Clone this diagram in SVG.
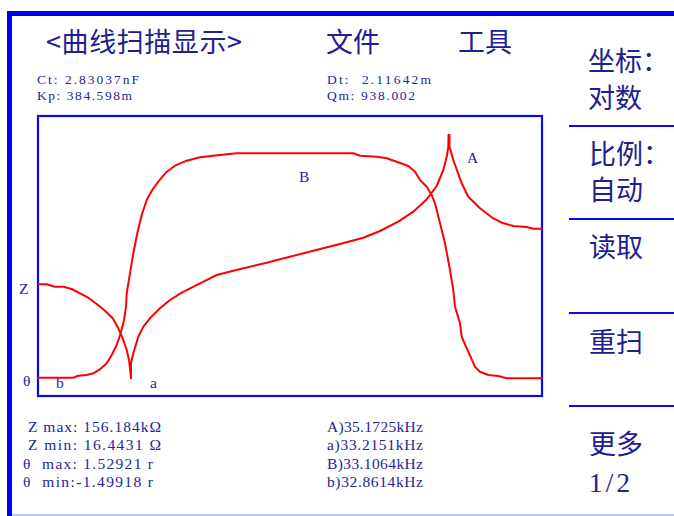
<svg xmlns="http://www.w3.org/2000/svg" width="674" height="516" viewBox="0 0 674 516">
<style>
.cjk{font-family:"Noto Sans CJK SC","Noto Sans",sans-serif;font-size:27px;fill:#202090}
.sm{font-family:"Liberation Serif",serif;font-size:15.5px;fill:#25259a}
.par{font-family:"Liberation Serif",serif;font-size:13.5px;fill:#25259a}
.num{font-family:"Liberation Serif",serif;font-size:27px;fill:#202090}
.curve{fill:none;stroke:#ff0000;stroke-width:2;stroke-linejoin:round}
.menu{stroke:#0a0af0;stroke-width:2}
</style>
<rect width="674" height="516" fill="#ffffff"/>
<g id="frame">
<rect x="7" y="11" width="667" height="5" fill="#0000f0"/>
<rect x="7" y="11" width="5" height="505" fill="#0000f0"/>
<line x1="12" y1="515" x2="674" y2="515" stroke="#b0b0ff" stroke-width="1.5"/>
</g>
<g id="header">
<text class="cjk" x="46" y="52" textLength="196" lengthAdjust="spacing">&lt;曲线扫描显示&gt;</text>
<text class="cjk" x="326" y="52">文件</text>
<text class="cjk" x="458" y="52">工具</text>
</g>
<g id="params">
<text class="par" x="37" y="84" textLength="102" lengthAdjust="spacing">Ct: 2.83037nF</text>
<text class="par" x="37" y="99.5" textLength="95" lengthAdjust="spacing">Kp: 384.598m</text>
<text class="par" x="327" y="84" textLength="104" lengthAdjust="spacing" xml:space="preserve">Dt:  2.11642m</text>
<text class="par" x="327" y="99.5" textLength="88" lengthAdjust="spacing">Qm: 938.002</text>
</g>
<g id="plot">
<rect x="38" y="116" width="504" height="280" fill="none" stroke="#0a0af0" stroke-width="2.2"/>
<text class="sm" x="19" y="294">Z</text>
<text class="sm" x="23" y="386">θ</text>
<text class="sm" x="56" y="388">b</text>
<text class="sm" x="150" y="388">a</text>
<text class="sm" x="299" y="182">B</text>
<text class="sm" x="467" y="163">A</text>
</g>
<g id="connectors">
<polyline class="curve" points="37.7,284.3 46.7,284.3 55,286.7 63.3,286.7 71.7,289 80,293.3 88.3,297.7 96.7,304 105,310.7 112.7,318.3 118.3,328.3 122.7,338.3 126.7,350 129,360 130,368.3 131,378.3 131,363.3 133.3,353.3 138.3,336.7 143.3,326.7 150,318.3 160,308.3 170,300 181.7,292.7 200,283.3 216.7,275 233.3,270.7 266.7,262.7 280,259.3 313.3,250.7 340,244 363.3,237.7 380,231 398.3,221.7 413.3,211.7 426.7,199.3 436.7,186 443.3,170 446.7,156.7 448.3,147 448.5,135 449.5,135 449.5,147 450.5,150 453.3,160 461.7,183.3 468.3,196.7 480,208.3 491.7,217.3 501.7,222.7 513.3,226 526.7,227 533.3,228.7 542.3,228.7"/>
<polyline class="curve" points="37.7,377.7 73.3,377.7 78.3,375.7 86.7,375 93.3,373.3 100,369.3 106.7,363.3 111.7,355 116.7,345 120.7,333.3 124,320 126,306.7 126.7,293.3 130,273.3 133.3,253.3 137.3,233.3 141.7,215 146.7,200 152.7,189.3 158.3,181.7 166.7,171.7 175,165.7 186.7,160.7 200,157.3 213.3,155.7 236.7,153.3 353.3,153.3 360,155.7 376.7,156.7 386.7,158.3 396.7,161.7 408.3,166 415,171.7 420,180 426.7,186.7 431.7,195 435,203.3 440,223.3 445,243.3 450,270 453.3,290 455,306.7 460,323.3 461.7,336.7 466.7,348.3 475,366.7 480,371.7 488.3,375 498.3,376 506.7,378.3 542.3,378.3"/>
</g>
<g id="menu">
<line class="menu" x1="569" y1="126" x2="674" y2="126"/>
<line class="menu" x1="569" y1="219" x2="674" y2="219"/>
<line class="menu" x1="569" y1="313" x2="674" y2="313"/>
<line class="menu" x1="569" y1="406" x2="674" y2="406"/>
<text class="cjk" x="588" y="71">坐标：</text>
<text class="cjk" x="588" y="108">对数</text>
<text class="cjk" x="589" y="164">比例：</text>
<text class="cjk" x="589" y="200">自动</text>
<text class="cjk" x="589" y="257">读取</text>
<text class="cjk" x="589" y="352">重扫</text>
<text class="cjk" x="589" y="454">更多</text>
<text class="num" x="589" y="492" textLength="41" lengthAdjust="spacing">1/2</text>
</g>
<g id="readout">
<text class="sm" x="28" y="432" textLength="133" lengthAdjust="spacing">Z max: 156.184kΩ</text>
<text class="sm" x="28" y="450" textLength="133" lengthAdjust="spacing" xml:space="preserve">Z min: 16.4431 Ω</text>
<text class="sm" x="23" y="468.5" textLength="130" lengthAdjust="spacing" xml:space="preserve">θ  max: 1.52921 r</text>
<text class="sm" x="23" y="487" textLength="130" lengthAdjust="spacing" xml:space="preserve">θ  min:-1.49918 r</text>
<text class="sm" x="327" y="432" textLength="96" lengthAdjust="spacing">A)35.1725kHz</text>
<text class="sm" x="327" y="450" textLength="96" lengthAdjust="spacing">a)33.2151kHz</text>
<text class="sm" x="327" y="468.5" textLength="96" lengthAdjust="spacing">B)33.1064kHz</text>
<text class="sm" x="327" y="487" textLength="96" lengthAdjust="spacing">b)32.8614kHz</text>
</g>
</svg>
